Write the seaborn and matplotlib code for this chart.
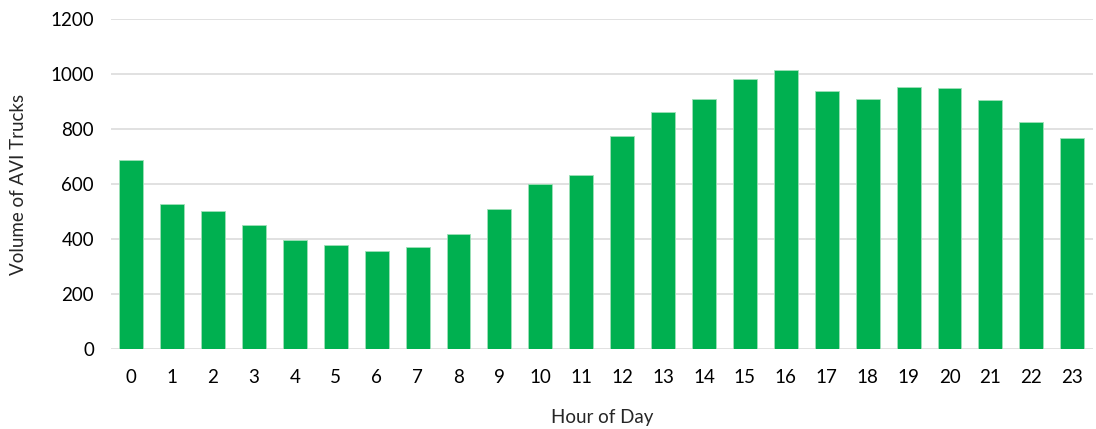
import matplotlib
matplotlib.use("Agg")
import matplotlib.pyplot as plt
import seaborn as sns
import pandas as pd

# Données
hours = list(range(24))
volumes = [689, 527, 503, 451, 397, 378, 357, 371, 419, 509, 601, 633,
           776, 863, 909, 982, 1016, 940, 909, 953, 950, 905, 827, 767]
y_ticks = [0, 200, 400, 600, 800, 1000, 1200]

df = pd.DataFrame({"hour": hours, "volume": volumes})

sns.set_theme(style="white")
plt.rcParams['font.family'] = ['Lato', 'DejaVu Sans']

fig = plt.figure(figsize=(10.96, 4.29), dpi=100)
ax = fig.add_axes([0.101, 0.186, 0.896, 0.769])

sns.barplot(data=df, x="hour", y="volume", color="#00B050", saturation=1,
            width=0.585, edgecolor="#9fe0b8", linewidth=0.6, ax=ax, zorder=3)

ax.set_ylim(0, 1200)
ax.set_yticks(y_ticks)
ax.set_xlim(-0.5, 23.5)
ax.grid(axis="y", color="#D9D9D9", linewidth=1.1, zorder=0)
ax.set_axisbelow(True)
for s in ax.spines.values():
    s.set_visible(False)
ax.tick_params(axis="both", length=0, labelsize=13.5, colors="#000000")
ax.tick_params(axis="x", pad=14)
ax.tick_params(axis="y", pad=12)

ax.set_xlabel("Hour of Day", fontsize=13.5, labelpad=17)
ax.set_ylabel("Volume of AVI Trucks", fontsize=13.5, labelpad=17)

fig.savefig("out.png", dpi=100)
